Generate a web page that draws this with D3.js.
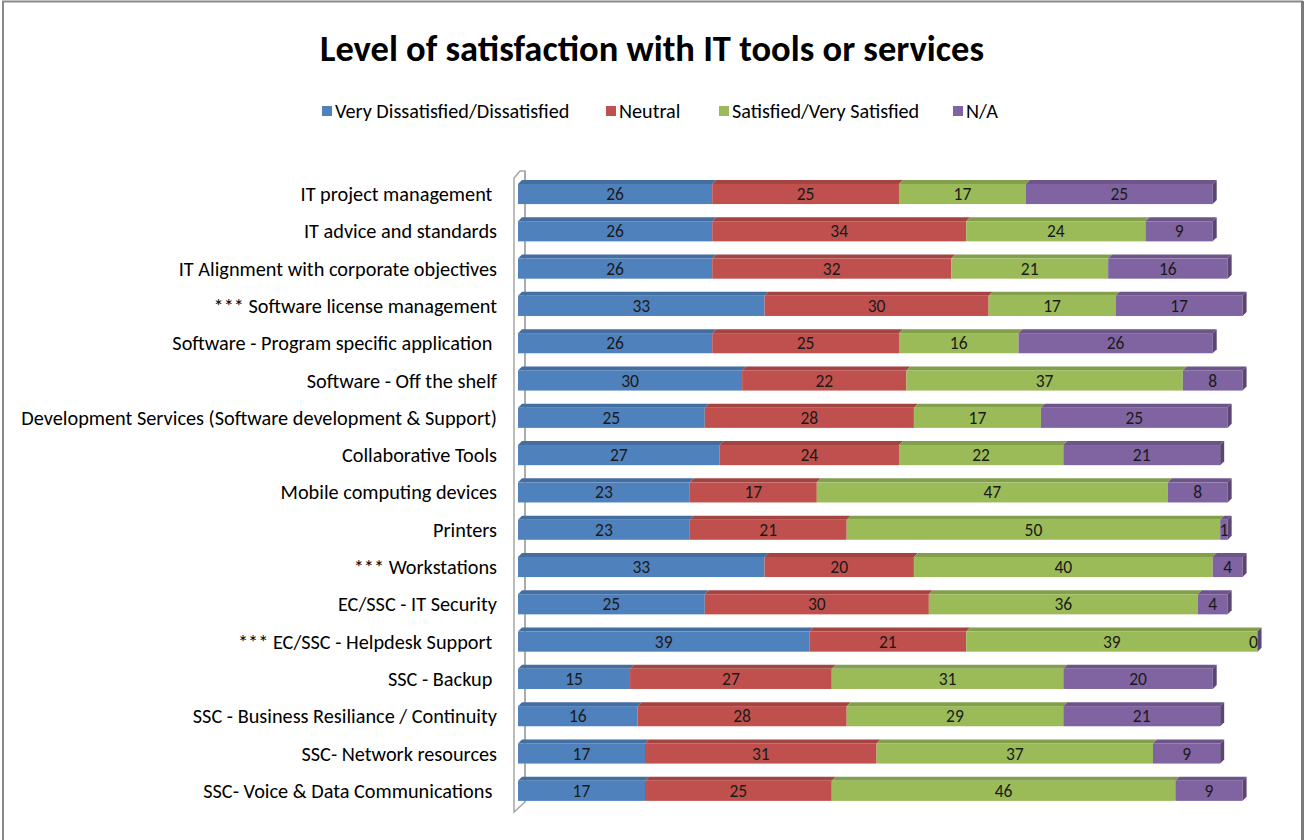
<!DOCTYPE html>
<html>
<head>
<meta charset="utf-8">
<script src="https://cdn.jsdelivr.net/npm/d3@7"></script>
<style>
  html, body { margin: 0; padding: 0; background: #fff; }
  svg { display: block; }
  text { font-family: "Carlito", "Liberation Sans Narrow", "Liberation Sans", sans-serif; }
</style>
</head>
<body>
<svg id="chart" width="1306" height="840"></svg>
<script>
// Survey responses, percent of respondents per service
const categories = [
  "IT project management ",
  "IT advice and standards",
  "IT Alignment with corporate objectives",
  "*** Software license management",
  "Software - Program specific application ",
  "Software - Off the shelf",
  "Development Services (Software development & Support)",
  "Collaborative Tools",
  "Mobile computing devices",
  "Printers",
  "*** Workstations",
  "EC/SSC - IT Security",
  "*** EC/SSC - Helpdesk Support ",
  "SSC - Backup ",
  "SSC - Business Resiliance / Continuity",
  "SSC- Network resources",
  "SSC- Voice & Data Communications "
];
const seriesNames = ["Very Dissatisfied/Dissatisfied", "Neutral", "Satisfied/Very Satisfied", "N/A"];
const dissatisfied = [26, 26, 26, 33, 26, 30, 25, 27, 23, 23, 33, 25, 39, 15, 16, 17, 17];
const neutral      = [25, 34, 32, 30, 25, 22, 28, 24, 17, 21, 20, 30, 21, 27, 28, 31, 25];
const satisfied    = [17, 24, 21, 17, 16, 37, 17, 22, 47, 50, 40, 36, 39, 31, 29, 37, 46];
const notApplicable= [25,  9, 16, 17, 26,  8, 25, 21,  8,  1,  4,  4,  0, 20, 21,  9,  9];
const colors = ["#4f81bd", "#c0504d", "#9bbb59", "#8064a2"];

const rows = categories.map((c, i) => ({
  category: c,
  values: [dissatisfied[i], neutral[i], satisfied[i], notApplicable[i]]
}));

const svg = d3.select("#chart");
const W = 1306, H = 840;

// frame around the chart area
svg.append("line").attr("x1", 3).attr("x2", 3).attr("y1", 1).attr("y2", H)
  .attr("stroke", "#8a8a8a").attr("stroke-width", 2);
svg.append("line").attr("x1", 2).attr("x2", 1303).attr("y1", 1.5).attr("y2", 1.5)
  .attr("stroke", "#8a8a8a").attr("stroke-width", 2);
svg.append("line").attr("x1", 1302.5).attr("x2", 1302.5).attr("y1", 1).attr("y2", H)
  .attr("stroke", "#7a7a7a").attr("stroke-width", 3);

// title
svg.append("text")
  .attr("x", 652).attr("y", 61)
  .attr("text-anchor", "middle")
  .attr("font-size", 36.5).attr("font-weight", "bold")
  .attr("fill", "#000")
  .text("Level of satisfaction with IT tools or services");

// legend
const legendX = [322, 606, 719, 953];
const legend = svg.append("g");
seriesNames.forEach((name, i) => {
  legend.append("rect").attr("x", legendX[i]).attr("y", 106).attr("width", 10).attr("height", 10)
    .attr("fill", colors[i]);
  legend.append("text").attr("x", legendX[i] + 13).attr("y", 118)
    .attr("font-size", 20.2).attr("fill", "#000").text(name);
});

// scales
const x = d3.scaleLinear().domain([0, 100]).range([518, 1265]);
const y = d3.scaleBand().domain(categories).range([175.35, 809.45])
  .paddingInner(0.46).paddingOuter(0.23);
const depth = 4;

// back wall outline
svg.append("path")
  .attr("d", "M525,802 L514,812 L514,178 L520,171 L525,171 Z")
  .attr("fill", "none").attr("stroke", "#a6a6a6").attr("stroke-width", 1.5);
svg.append("line").attr("x1", 525).attr("x2", 525).attr("y1", 171).attr("y2", 802)
  .attr("stroke", "#a6a6a6").attr("stroke-width", 1.5);

// category labels
svg.append("g").selectAll("text").data(rows).join("text")
  .attr("x", 497)
  .attr("y", d => y(d.category) + y.bandwidth() / 2 + 7)
  .attr("text-anchor", "end")
  .attr("font-size", 20.3)
  .attr("fill", "#000")
  .style("white-space", "pre")
  .text(d => d.category);

// stacked 3D bars
const bars = svg.append("g");
rows.forEach(row => {
  const y0 = y(row.category), h = y.bandwidth();
  let acc = 0;
  const segs = row.values.map((v, k) => {
    const s = { k, v, start: acc, end: acc + v };
    acc += v;
    return s;
  });
  const g = bars.append("g");
  segs.forEach(s => {
    const xa = x(s.start), xb = x(s.end);
    // top face
    g.append("path")
      .attr("d", `M${xa},${y0} L${xb},${y0} L${xb + depth},${y0 - depth} L${xa + depth},${y0 - depth} Z`)
      .attr("fill", d3.color(colors[s.k]).darker(0.45));
    // front face
    g.append("rect").attr("x", xa).attr("y", y0).attr("width", xb - xa).attr("height", h)
      .attr("fill", colors[s.k]);
  });
  // right side face of the last segment
  const last = segs[segs.length - 1];
  const xe = x(last.end);
  g.append("path")
    .attr("d", `M${xe},${y0} L${xe + depth},${y0 - depth} L${xe + depth},${y0 + h - depth} L${xe},${y0 + h} Z`)
    .attr("fill", d3.color(colors[last.k]).darker(1));
  // value labels
  segs.forEach(s => {
    g.append("text")
      .attr("x", (x(s.start) + x(s.end)) / 2 - (s.v === 0 ? 4 : 0))
      .attr("y", y0 + h / 2 + 6)
      .attr("text-anchor", "middle")
      .attr("font-size", 17.5)
      .attr("fill", "#1a1a1a")
      .text(s.v);
  });
});
</script>
</body>
</html>
